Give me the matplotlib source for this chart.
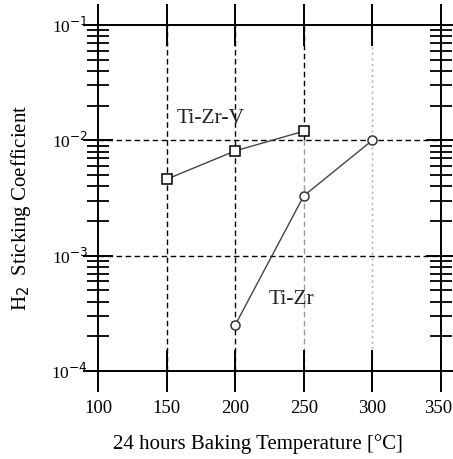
import numpy as np
import matplotlib.pyplot as plt
from matplotlib.ticker import LogLocator, NullFormatter
from matplotlib.transforms import ScaledTranslation

plt.rcParams['font.family'] = ['Liberation Serif', 'DejaVu Serif']

# baking temperature [C] vs H2 sticking coefficient
temp_tizrv = [150, 200, 250]
stick_tizrv = [4.6e-3, 8.1e-3, 1.2e-2]

temp_tizr = [200, 250, 300]
stick_tizr = [2.5e-4, 3.3e-3, 1.0e-2]

xticks = [100, 150, 200, 250, 300, 350]
yticks = [1e-4, 1e-3, 1e-2, 1e-1]
ytick_labels = ['10$^{\\mathrm{-4}}$', '10$^{\\mathrm{-3}}$',
                '10$^{\\mathrm{-2}}$', '10$^{\\mathrm{-1}}$']

fig = plt.figure(figsize=(4.53, 4.59), dpi=100)
ax = fig.add_axes([0.2163, 0.1917, 0.757, 0.7538])
ax.set_yscale('log')
ax.set_xlim(100, 350)
ax.set_ylim(1e-4, 1e-1)

# grid lines
dash = (0, (4, 2.5))
for y in [1e-2, 1e-3]:
    ax.axhline(y, color='black', lw=1.0, ls=dash, zorder=1)
for x in [150, 200]:
    ax.axvline(x, color='black', lw=1.0, ls=dash, zorder=1)
ax.plot([250, 250], [1e-2, 1e-1], color='black', lw=1.0, ls=dash, zorder=1)
ax.plot([250, 250], [1e-4, 1e-2], color='#999999', lw=1.0, ls=dash, zorder=1)
ax.axvline(300, color='#aaaaaa', lw=1.0, ls=(0, (1.5, 2.5)), zorder=1)

ax.plot(temp_tizrv, stick_tizrv, color='#444444', lw=1.0, marker='s', ms=7,
        mfc='white', mec='black', mew=1.1, zorder=3)
ax.plot(temp_tizr, stick_tizr, color='#444444', lw=1.0, marker='o', ms=6.5,
        mfc='white', mec='#333333', mew=1.1, zorder=3)

ax.text(182, 1.55e-2, 'Ti-Zr-V', fontsize=15.5, ha='center', va='center', color='#222222')
ax.text(241, 4.2e-4, 'Ti-Zr', fontsize=15.5, ha='center', va='center', color='#222222')

for s in ax.spines.values():
    s.set_linewidth(1.4)

ax.set_xticks(xticks)
ax.set_yticks(yticks)
ax.set_yticklabels(ytick_labels)
ax.yaxis.set_minor_locator(LogLocator(base=10, subs=np.arange(2, 10)))
ax.yaxis.set_minor_formatter(NullFormatter())
ax.tick_params(axis='x', which='major', direction='inout', length=30, width=1.4,
               top=True, bottom=True, labelsize=13.5, pad=6)
ax.tick_params(axis='y', which='major', direction='inout', length=22, width=1.4,
               left=True, right=True, labelsize=12.5, pad=-4)
ax.tick_params(axis='y', which='minor', direction='inout', length=16, width=1.3,
               left=True, right=True)

# keep the last x label inside the figure edge
last = ax.get_xticklabels()[-1]
last.set_ha('right')
last.set_transform(last.get_transform() + ScaledTranslation(0.115, 0, fig.dpi_scale_trans))

ax.set_xlabel('24 hours Baking Temperature [°C]', fontsize=15, va='center')
ax.xaxis.set_label_coords(0.466, -0.211)
ax.set_ylabel('H$_2$  Sticking Coefficient', fontsize=15, va='center')
ax.yaxis.set_label_coords(-0.224, 0.471)

fig.savefig('out.png', dpi=100)
